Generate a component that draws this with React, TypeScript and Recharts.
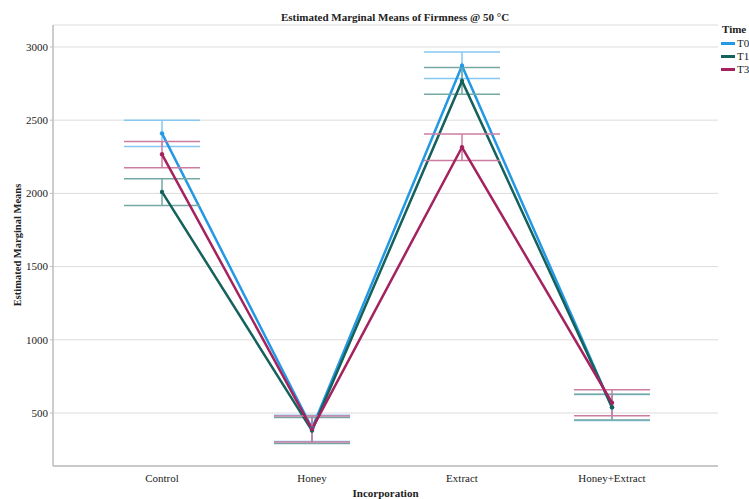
import React from "react";
import { LineChart, Line, XAxis, YAxis, CartesianGrid, ErrorBar } from "recharts";

const categories = ["Control", "Honey", "Extract", "Honey+Extract"];

const t0Mean = [2410, 395, 2872, 537];
const t0Low = [2320, 305, 2785, 448];
const t0High = [2500, 485, 2965, 627];

const t15Mean = [2010, 380, 2768, 540];
const t15Low = [1918, 292, 2677, 452];
const t15High = [2100, 470, 2859, 628];

const t30Mean = [2267, 390, 2315, 570];
const t30Low = [2175, 302, 2225, 482];
const t30High = [2355, 480, 2405, 658];

const yTicks = [500, 1000, 1500, 2000, 2500, 3000];

const series = [
  { key: "T0", mean: t0Mean, low: t0Low, high: t0High, color: "#2399e6", err: "#86c8f1" },
  { key: "T15", mean: t15Mean, low: t15Low, high: t15High, color: "#15615b", err: "#74a8a3" },
  { key: "T30", mean: t30Mean, low: t30Low, high: t30High, color: "#a4235f", err: "#cd7ca1" },
];

const data = categories.map((c, i) => {
  const row: any = { name: c };
  series.forEach((s) => {
    row[s.key] = s.mean[i];
    row[s.key + "_err"] = [s.mean[i] - s.low[i], s.high[i] - s.mean[i]];
  });
  return row;
});

const font = "'Liberation Serif', 'Times New Roman', serif";

const Dot = (props: any) => {
  const { cx, cy, stroke } = props;
  if (cx == null || cy == null) return null;
  return <circle cx={cx} cy={cy} r={2.2} fill={stroke} stroke="none" />;
};

export default function App() {
  return (
    <div style={{ position: "absolute", left: 0, top: 0, width: 749, height: 499, overflow: "hidden", background: "#fff" }}>
      <div
        style={{
          position: "absolute",
          top: 11,
          left: 0,
          width: 790,
          textAlign: "center",
          fontFamily: font,
          fontWeight: "bold",
          fontSize: 11,
          color: "#222",
        }}
      >
        Estimated Marginal Means of Firmness @ 50 °C
      </div>
      <div
        style={{
          position: "absolute",
          left: 721,
          top: 23,
          fontFamily: font,
          fontSize: 11,
          color: "#222",
          lineHeight: "13px",
        }}
      >
        <div style={{ fontWeight: "bold", marginLeft: 1, marginBottom: 1 }}>Time</div>
        {series.map((s) => (
          <div key={s.key} style={{ display: "flex", alignItems: "center", whiteSpace: "nowrap" }}>
            <span style={{ display: "inline-block", width: 14, height: 3, background: s.color, marginRight: 2 }} />
            <span>{s.key}</span>
          </div>
        ))}
      </div>
      <LineChart
        width={749}
        height={499}
        data={data}
        margin={{ top: 25, right: 31, bottom: 0, left: 0 }}
        style={{ position: "absolute", left: 0, top: 0 }}
      >
        <CartesianGrid horizontal={true} vertical={false} stroke="#dcdcdc" strokeWidth={1} />
        <XAxis
          dataKey="name"
          height={33}
          padding={{ left: 109, right: 106 }}
          tickLine={false}
          axisLine={{ stroke: "#bdbdbd", strokeWidth: 1.5 }}
          tick={{ fontFamily: font, fontSize: 11, fill: "#222" }}
          tickMargin={2}
          interval={0}
          label={{
            value: "Incorporation",
            position: "insideBottom",
            offset: 2,
            style: { fontFamily: font, fontSize: 11, fontWeight: "bold", fill: "#222" },
          }}
        />
        <YAxis
          width={53}
          domain={[138, 3150]}
          ticks={yTicks}
          type="number"
          allowDataOverflow
          tickSize={3}
          tickLine={{ stroke: "#bdbdbd" }}
          axisLine={{ stroke: "#bdbdbd", strokeWidth: 1.5 }}
          tick={{ fontFamily: font, fontSize: 11, fill: "#222" }}
          tickMargin={2}
          label={{
            content: () => (
              <text
                x={19}
                y={245}
                transform="rotate(-90 19 245)"
                textAnchor="middle"
                dominantBaseline="middle"
                style={{ fontFamily: font, fontSize: 10.5, fontWeight: "bold", fill: "#222" }}
              >
                Estimated Marginal Means
              </text>
            ),
          }}
        />
        {series.map((s) => (
          <Line
            key={s.key}
            type="linear"
            dataKey={s.key}
            stroke={s.color}
            strokeWidth={2.5}
            dot={<Dot />}
            activeDot={false}
            isAnimationActive={false}
          >
            <ErrorBar
              dataKey={s.key + "_err"}
              direction="y"
              width={38}
              stroke={s.err}
              strokeWidth={1.5}
              isAnimationActive={false}
            />
          </Line>
        ))}
      </LineChart>
    </div>
  );
}
